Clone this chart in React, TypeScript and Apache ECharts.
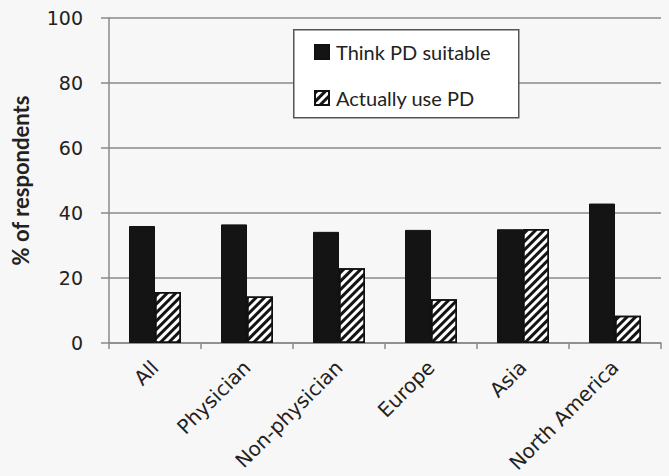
import React, { useEffect, useRef } from "react";
import * as echarts from "echarts";

const categories = ["All", "Physician", "Non-physician", "Europe", "Asia", "North America"];
const thinkSuitable = [36.0, 36.5, 34.2, 34.8, 35.0, 42.9];
const actuallyUse = [15.7, 14.3, 23.0, 13.5, 35.1, 8.4];
const seriesNames = ["Think PD suitable", "Actually use PD"];
const yTicks = [0, 20, 40, 60, 80, 100];

export default function App() {
  const ref = useRef<HTMLDivElement>(null);
  useEffect(() => {
    if (!ref.current) return;
    const chart = echarts.init(ref.current, null, { renderer: "svg" });
    const axisGray = "#8a8a8a";
    chart.setOption({
      animation: false,
      backgroundColor: "#f7f7f7",
      grid: { left: 109, right: 8, top: 18, bottom: 133, containLabel: false },
      graphic: [
        {
          type: "rect",
          left: 293,
          top: 29,
          z: 10,
          shape: { width: 225, height: 88 },
          style: { fill: "#ffffff", stroke: "#555", lineWidth: 1.5 },
        },
      ],
      legend: {
        z: 20,
        orient: "vertical",
        left: 314,
        top: 42,
        padding: 0,
        icon: "rect",
        itemWidth: 14,
        itemHeight: 14,
        itemGap: 26,
        data: seriesNames,
        textStyle: { fontFamily: "Lato", fontSize: 20, color: "#222", padding: [0, 0, 0, 2] },
      },
      xAxis: {
        type: "category",
        data: categories,
        axisLine: { lineStyle: { color: axisGray, width: 1.5 } },
        axisTick: { show: true, length: 6, lineStyle: { color: axisGray, width: 1.5 } },
        axisLabel: {
          rotate: 45,
          interval: 0,
          margin: 21,
          fontFamily: "DejaVu Sans",
          fontSize: 20,
          color: "#222",
        },
      },
      yAxis: {
        type: "value",
        min: 0,
        max: 100,
        interval: 20,
        name: "% of respondents",
        nameLocation: "middle",
        nameGap: 78,
        nameTextStyle: { fontFamily: "Lato", fontWeight: "bold", fontSize: 22, color: "#222" },
        axisLine: { show: true, lineStyle: { color: axisGray, width: 1.5 } },
        axisTick: { show: true, inside: false, length: 8, lineStyle: { color: axisGray, width: 1.5 } },
        axisLabel: {
          margin: 26,
          fontFamily: "DejaVu Sans",
          fontSize: 19,
          color: "#222",
          formatter: (v: number) => (yTicks.includes(v) ? String(v) : ""),
        },
        splitLine: { show: true, lineStyle: { color: axisGray, width: 1.5 } },
      },
      series: [
        {
          name: seriesNames[0],
          type: "bar",
          data: thinkSuitable,
          barWidth: 26,
          barGap: "0%",
          itemStyle: { color: "#141414", borderColor: "#111", borderWidth: 1 },
        },
        {
          name: seriesNames[1],
          type: "bar",
          data: actuallyUse,
          barWidth: 26,
          barGap: "0%",
          itemStyle: {
            color: "#ffffff",
            borderColor: "#111",
            borderWidth: 1.5,
            decal: {
              symbol: "rect",
              symbolSize: 1,
              color: "#141414",
              backgroundColor: "#ffffff",
              dashArrayX: [1, 0],
              dashArrayY: [2.5, 2.5],
              rotation: -Math.PI / 4,
            },
          },
        },
      ],
    });
    return () => chart.dispose();
  }, []);
  return (
    <div
      ref={ref}
      style={{ position: "fixed", left: 0, top: 0, width: 669, height: 476 }}
    />
  );
}
